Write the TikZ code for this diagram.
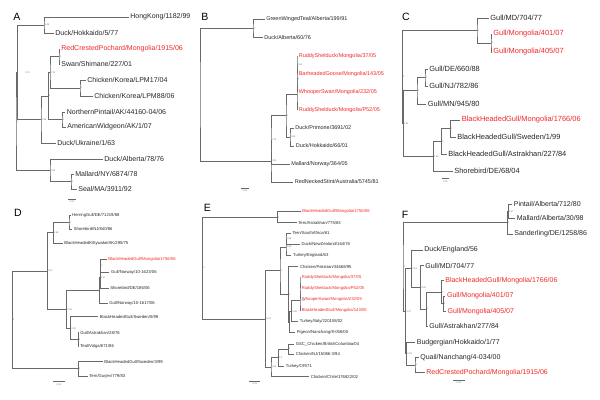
\documentclass[tikz,border=0pt]{standalone}
\usepackage{fontspec}
\setmainfont{Liberation Sans}
\definecolor{mred}{RGB}{240,40,40}
\definecolor{brc}{RGB}{105,105,105}
\newcommand\brk[3]{\draw[br] (#1) -| (#2) |- (#3);}
\begin{document}
\begin{tikzpicture}[x=0.025cm,y=-0.025cm,
 br/.style={draw=brc,line width=0.5pt},
 leaf/.style={anchor=west,inner xsep=1.1pt,inner ysep=0.4pt,text=black!85},
 mg/.style={text=mred},
 sup/.style={anchor=west,inner sep=0.2pt,font=\fontsize{1.7}{2}\selectfont,text=black!55},
 sbt/.style={inner sep=0.2pt,font=\fontsize{1.7}{2}\selectfont,text=black!55},
 fA/.style={font=\fontsize{5}{6}\selectfont},
 fB/.style={font=\fontsize{3.9}{4.5}\selectfont},
 fC/.style={font=\fontsize{5.3}{6}\selectfont},
 fD/.style={font=\fontsize{3}{3.5}\selectfont},
 fE/.style={font=\fontsize{3}{3.5}\selectfont},
 fF/.style={font=\fontsize{5}{6}\selectfont},
 pl/.style={font=\fontsize{7.5}{9}\selectfont,text=black,inner sep=0pt}]
\useasboundingbox (0,0) rectangle (600,400);

% ---------------- Panel A
\node[pl] (LA) at (17,17) {A};
\node[leaf,fA] (a1) at (128.5,17) {HongKong/1182/99};
\node[leaf,fA] (a2) at (53.5,33) {Duck/Hokkaido/5/77};
\node[leaf,fA,mg] (a3) at (59.5,49) {RedCrestedPochard/Mongolia/1915/06};
\node[leaf,fA] (a4) at (59.5,64) {Swan/Shimane/227/01};
\node[leaf,fA] (a5) at (85.5,80) {Chicken/Korea/LPM17/04};
\node[leaf,fA] (a6) at (92.5,96) {Chicken/Korea/LPM88/06};
\node[leaf,fA] (a7) at (65,112) {NorthernPintail/AK/44160-04/06};
\node[leaf,fA] (a8) at (65.5,127) {AmericanWidgeon/AK/1/07};
\node[leaf,fA] (a9) at (55.5,143) {Duck/Ukraine/1/63};
\node[leaf,fA] (a10) at (102.5,159) {Duck/Alberta/78/76};
\node[leaf,fA] (a11) at (73.5,174) {Mallard/NY/6874/78};
\node[leaf,fA] (a12) at (76.5,189) {Seal/MA/3911/92};
\coordinate (pA1) at (44,25);
\coordinate (pA3) at (59,56.5);
\coordinate (pA4) at (80,88);
\coordinate (pA2) at (50,72.25);
\coordinate (pA6) at (62,119.5);
\coordinate (pA5) at (48.5,95.9);
\coordinate (pA7) at (41,119.4);
\coordinate (pA0) at (17.5,72.2);
\coordinate (pA9) at (71,181.5);
\coordinate (pA8) at (50,170.25);
\coordinate (rA) at (16,121.2);
\brk{a1.west}{pA1}{a2.west}
\brk{a3.west}{pA3}{a4.west}
\brk{a5.west}{pA4}{a6.west}
\brk{pA3}{pA2}{pA4}
\brk{a7.west}{pA6}{a8.west}
\brk{pA2}{pA5}{pA6}
\brk{pA5}{pA7}{a9.west}
\brk{pA1}{pA0}{pA7}
\brk{a11.west}{pA9}{a12.west}
\brk{a10.west}{pA8}{pA9}
\brk{pA0}{rA}{pA8}
\node[sup] (sA1) at (pA1) {0.99};
\node[sup] (sA3) at (pA3) {1};
\node[sup] (sA4) at (pA4) {1};
\node[sup] (sA2) at (pA2) {0.79};
\node[sup] (sA6) at (pA6) {1};
\node[sup] (sA5) at (pA5) {1};
\node[sup] (sA7) at (pA7) {0.98};
\node[sup] (sA0) at ([xshift=5]pA0) {0.73};
\node[sup] (sA9) at (pA9) {1};
\node[sup] (sA8) at (pA8) {0.98};
\node[sup] (sAr) at (rA) {1};
\coordinate (sbA1) at (68,199); \coordinate (sbA2) at (76,199);
\draw[br] (sbA1) -- (sbA2);
\node[sbt] (tA) at (72,201.5) {0.01};

% ---------------- Panel B
\node[pl] (LB) at (205,17) {B};
\node[leaf,fB] (b1) at (264.5,19) {GreenWingedTeal/Alberta/199/91};
\node[leaf,fB] (b2) at (262.5,37.5) {Duck/Alberta/60/76};
\node[leaf,fB,mg] (b3) at (297,56) {RuddyShelduck/Mongolia/37/05};
\node[leaf,fB,mg] (b4) at (297,74) {BarheadedGoose/Mongolia/143/05};
\node[leaf,fB,mg] (b5) at (297,92) {WhooperSwan/Mongolia/232/05};
\node[leaf,fB,mg] (b6) at (297,110) {RuddyShelduck/Mongolia/P52/05};
\node[leaf,fB] (b7) at (293.5,128) {Duck/Primorie/3691/02};
\node[leaf,fB] (b8) at (294,146) {Duck/Hokkaido/66/01};
\node[leaf,fB] (b9) at (289.5,164) {Mallard/Norway/364/05};
\node[leaf,fB] (b10) at (293,182) {RedNeckedStint/Australia/5745/81};
\coordinate (pB1) at (253,28.25);
\coordinate (pBr1) at (297,65);
\coordinate (pBr2) at (297,78.5);
\coordinate (pBr3) at (297,94.25);
\coordinate (pB6) at (290,137);
\coordinate (pB5) at (286,115.6);
\coordinate (pB4) at (271,139.8);
\coordinate (pB3) at (271,160.9);
\coordinate (rB) at (200,94.6);
\brk{b1.west}{pB1}{b2.west}
\brk{b3.west}{pBr1}{b4.west}
\brk{pBr1}{pBr2}{b5.west}
\brk{pBr2}{pBr3}{b6.west}
\brk{b7.west}{pB6}{b8.west}
\brk{pBr3}{pB5}{pB6}
\brk{pB5}{pB4}{b9.west}
\brk{pB4}{pB3}{b10.west}
\brk{pB1}{rB}{pB3}
\node[sup] (sB1) at (pB1) {1};
\node[sup] (sBr1) at (pBr1) {0.61};
\node[sup] (sBr2) at (pBr2) {1};
\node[sup] (sB6) at (pB6) {0.98};
\node[sup] (sB5) at (pB5) {1};
\node[sup] (sB4) at (pB4) {0.75};
\node[sup] (sB3) at (pB3) {0.98};
\coordinate (sbB1) at (240.7,188); \coordinate (sbB2) at (249.3,188);
\draw[br] (sbB1) -- (sbB2);
\node[sbt] (tB) at (245,191) {0.01};

% ---------------- Panel C
\node[pl] (LC) at (406,17) {C};
\node[leaf,fC] (c1) at (488.5,18) {Gull/MD/704/77};
\node[leaf,fC,mg] (c2) at (491.5,34) {Gull/Mongolia/401/07};
\node[leaf,fC,mg] (c3) at (491.5,52) {Gull/Mongolia/405/07};
\node[leaf,fC] (c4) at (427.5,69) {Gull/DE/660/88};
\node[leaf,fC] (c5) at (427.5,86) {Gull/NJ/782/86};
\node[leaf,fC] (c6) at (426,104) {Gull/MN/945/80};
\node[leaf,fC,mg] (c7) at (460,120) {BlackHeadedGull/Mongolia/1766/06};
\node[leaf,fC] (c8) at (455.5,137.3) {BlackHeadedGull/Sweden/1/99};
\node[leaf,fC] (c9) at (446.5,154.3) {BlackHeadedGull/Astrakhan/227/84};
\node[leaf,fC] (c10) at (452.5,171) {Shorebird/DE/68/04};
\coordinate (pC2) at (491,43);
\coordinate (pC1) at (477,30.5);
\coordinate (pC4) at (425,77.5);
\coordinate (pC3) at (417,90.75);
\coordinate (pC7) at (450.7,128.65);
\coordinate (pC6) at (441.7,141.5);
\coordinate (pC5) at (433.3,156.25);
\coordinate (pCx) at (403.3,123.5);
\coordinate (rC) at (402.5,77);
\brk{c2.west}{pC2}{c3.west}
\brk{c1.west}{pC1}{pC2}
\brk{c4.west}{pC4}{c5.west}
\brk{pC4}{pC3}{c6.west}
\brk{c7.west}{pC7}{c8.west}
\brk{pC7}{pC6}{c9.west}
\brk{pC6}{pC5}{c10.west}
\brk{pC3}{pCx}{pC5}
\brk{pC1}{rC}{pCx}
\node[sup] (sC2) at (pC2) {1};
\node[sup] (sC1) at (pC1) {1};
\node[sup] (sC4) at (pC4) {1};
\node[sup] (sC3) at (pC3) {1};
\node[sup] (sC7) at (pC7) {1};
\node[sup] (sC6) at (pC6) {1};
\node[sup] (sC5) at (pC5) {0.99};
\node[sup] (sCx) at (pCx) {0.61};
\node[sup] (sCr) at (rC) {1};
\coordinate (sbC1) at (441.7,178.3); \coordinate (sbC2) at (449.3,178.3);
\draw[br] (sbC1) -- (sbC2);
\node[sbt] (tC) at (445.5,181.3) {0.01};

% ---------------- Panel D
\node[pl] (LD) at (18,213) {D};
\node[leaf,fD] (d1) at (70.5,215) {HerringGull/DE/71219/88};
\node[leaf,fD] (d2) at (72,229.3) {Shorebird/NJ/840/86};
\node[leaf,fD] (d3) at (62.5,243.3) {BlackHeadedKittywake/AK/295/75};
\node[leaf,fD,mg] (d4) at (106.5,259.3) {BlackHeadedGull/Mongolia/1756/06};
\node[leaf,fD] (d5) at (109.3,272.7) {Gull/Norway/10-1623/06};
\node[leaf,fD] (d6) at (108.5,288.3) {Shorebird/DE/186/06};
\node[leaf,fD] (d7) at (107.5,303.3) {Gull/Norway/10-1617/06};
\node[leaf,fD] (d8) at (98,316.7) {BlackHeadedGull/Sweden/5/99};
\node[leaf,fD] (d9) at (78.5,332.7) {Gull/Astrakhan/28/76};
\node[leaf,fD] (d10) at (78.5,346.7) {Teal/Volga/671/86};
\node[leaf,fD] (d11) at (102.5,361.7) {BlackHeadedGull/Sweden/3/99};
\node[leaf,fD] (d12) at (87.5,376) {Tern/Gurjev/779/83};
\coordinate (pD3) at (69,222.2);
\coordinate (pD2) at (53.3,232.7);
\coordinate (pD8) at (100.7,266);
\coordinate (pD9) at (100.3,277.2);
\coordinate (pD10) at (99.8,290.2);
\coordinate (pD6) at (78.3,339.7);
\coordinate (pD11) at (70.7,328.2);
\coordinate (pD5) at (66.7,309.2);
\coordinate (pD1) at (47.5,270.95);
\coordinate (pD7) at (78.3,368.85);
\coordinate (rD) at (12.3,319.9);
\brk{d1.west}{pD3}{d2.west}
\brk{pD3}{pD2}{d3.west}
\brk{d4.west}{pD8}{d5.west}
\brk{pD8}{pD9}{d6.west}
\brk{pD9}{pD10}{d7.west}
\brk{d9.west}{pD6}{d10.west}
\brk{d8.west}{pD11}{pD6}
\brk{pD10}{pD5}{pD11}
\brk{pD2}{pD1}{pD5}
\brk{d11.west}{pD7}{d12.west}
\brk{pD1}{rD}{pD7}
\node[sup] (sD3) at (pD3) {1};
\node[sup] (sD2) at (pD2) {0.99};
\node[sup] (sD8) at (pD8) {1};
\node[sup] (sD9) at (pD9) {0.57};
\node[sup] (sD6) at (pD6) {1};
\node[sup] (sD11) at (pD11) {0.99};
\node[sup] (sD5) at (pD5) {0.91};
\node[sup] (sD1) at (pD1) {0.57};
\node[sup] (sD7) at (pD7) {1};
\node[sup] (sDr) at (rD) {1};
\coordinate (sbD1) at (53.3,381.7); \coordinate (sbD2) at (65,381.7);
\draw[br] (sbD1) -- (sbD2);
\node[sbt] (tD) at (59,384.7) {0.01};

% ---------------- Panel E
\node[pl] (LE) at (207.3,207.5) {E};
\node[leaf,fE,mg] (e1) at (300.5,211.7) {BlackHeadedGull/Mongolia/1756/06};
\node[leaf,fE] (e2) at (296.5,222.7) {Tern/Astrakhan/775/83};
\node[leaf,fE] (e3) at (290.7,233.3) {Tern/SouthAfrica/61};
\node[leaf,fE] (e4) at (299.7,244.3) {Duck/NewZealand/164/76};
\node[leaf,fE] (e5) at (291.3,255) {Turkey/England/63};
\node[leaf,fE] (e6) at (298.3,266.7) {Chicken/Pakistan/34668/95};
\node[leaf,fE,mg] (e7) at (300,277.3) {RuddyShelduck/Mongolia/37/05};
\node[leaf,fE,mg] (e8) at (300,288.3) {RuddyShelduck/Mongolia/P52/05};
\node[leaf,fE,mg] (e9) at (300,299.2) {WhooperSwan/Mongolia/232/05};
\node[leaf,fE,mg] (e10) at (300,310.7) {BlackHeadedGull/Mongolia/143/05};
\node[leaf,fE] (e11) at (298,321.7) {Turkey/Italy/220158/02};
\node[leaf,fE] (e12) at (295,332.7) {Pigeon/Nanchang/9-058/00};
\node[leaf,fE] (e13) at (294,344) {GSC\_Chicken/BritishColumbia/04};
\node[leaf,fE] (e14) at (294,354.3) {Chicken/NJ/15086-3/94};
\node[leaf,fE] (e15) at (284,366) {Turkey/OR/71};
\node[leaf,fE] (e16) at (309,376.7) {Chicken/Chile/176822/02};
\coordinate (pE1) at (277.3,217.2);
\coordinate (pEa) at (286,238.8);
\coordinate (pEb) at (286,246.9);
\coordinate (pEe1) at (300,282.8);
\coordinate (pEe2) at (300,291);
\coordinate (pEe) at (300,300.85);
\coordinate (pEf) at (291.7,311.3);
\coordinate (pEg) at (289.3,322);
\coordinate (pEh) at (288.3,294.35);
\coordinate (pEc) at (280,270.6);
\coordinate (pEk) at (288.3,349.15);
\coordinate (pEl) at (278.3,357.6);
\coordinate (pEj) at (271,367.15);
\coordinate (pEi) at (265.7,318.9);
\coordinate (rE) at (202.7,268.05);
\brk{e1.west}{pE1}{e2.west}
\brk{e3.west}{pEa}{e4.west}
\brk{pEa}{pEb}{e5.west}
\brk{e7.west}{pEe1}{e8.west}
\brk{pEe1}{pEe2}{e9.west}
\brk{pEe2}{pEe}{e10.west}
\brk{pEe}{pEf}{e11.west}
\brk{pEf}{pEg}{e12.west}
\brk{e6.west}{pEh}{pEg}
\brk{pEb}{pEc}{pEh}
\brk{e13.west}{pEk}{e14.west}
\brk{pEk}{pEl}{e15.west}
\brk{pEl}{pEj}{e16.west}
\brk{pEc}{pEi}{pEj}
\brk{pE1}{rE}{pEi}
\node[sup] (sE1) at (pE1) {1};
\node[sup] (sEa) at (pEa) {0.84};
\node[sup] (sEb) at (pEb) {0.98};
\node[sup] (sEe) at (pEe) {0.97};
\node[sup] (sEf) at (pEf) {0.89};
\node[sup] (sEh) at (pEh) {1};
\node[sup] (sEc) at (pEc) {1};
\node[sup] (sEk) at (pEk) {1};
\node[sup] (sEl) at (pEl) {0.5};
\node[sup] (sEj) at (pEj) {0.99};
\node[sup] (sEi) at (pEi) {0.97};
\node[sup] (sEr) at (rE) {1};
\coordinate (sbE1) at (249.3,381); \coordinate (sbE2) at (260,381);
\draw[br] (sbE1) -- (sbE2);
\node[sbt] (tE) at (254.6,384) {0.01};

% ---------------- Panel F
\node[pl] (LF) at (405,215) {F};
\node[leaf,fF] (f1) at (512,204.3) {Pintail/Alberta/712/80};
\node[leaf,fF] (f2) at (515,218.3) {Mallard/Alberta/30/98};
\node[leaf,fF] (f3) at (512.5,234) {Sanderling/DE/1258/86};
\node[leaf,fF] (f4) at (422.5,250) {Duck/England/56};
\node[leaf,fF] (f5) at (423.5,265.7) {Gull/MD/704/77};
\node[leaf,fF,mg] (f6) at (443.5,280.7) {BlackHeadedGull/Mongolia/1766/06};
\node[leaf,fF,mg] (f7) at (445.2,296) {Gull/Mongolia/401/07};
\node[leaf,fF,mg] (f8) at (445.8,311.7) {Gull/Mongolia/405/07};
\node[leaf,fF] (f9) at (427.5,326) {Gull/Astrakhan/277/84};
\node[leaf,fF] (f10) at (415,342.7) {Budgergian/Hokkaido/1/77};
\node[leaf,fF] (f11) at (418.5,357.3) {Quail/Nanchang/4-034/00};
\node[leaf,fF,mg] (f12) at (424.5,372.7) {RedCrestedPochard/Mongolia/1915/06};
\coordinate (pFa) at (508.3,211.3);
\coordinate (pFb) at (507.3,222.65);
\coordinate (pFg) at (443.3,303.85);
\coordinate (pFf) at (441.7,292.3);
\coordinate (pFe) at (426.7,309.1);
\coordinate (pFd) at (420.7,287.4);
\coordinate (pFc) at (411.7,268.7);
\coordinate (pFi) at (415,365);
\coordinate (pFh) at (406.7,353.85);
\coordinate (pFj) at (405.7,311.3);
\coordinate (rF) at (403,267);
\brk{f1.west}{pFa}{f2.west}
\brk{pFa}{pFb}{f3.west}
\brk{f7.west}{pFg}{f8.west}
\brk{f6.west}{pFf}{pFg}
\brk{pFf}{pFe}{f9.west}
\brk{f5.west}{pFd}{pFe}
\brk{f4.west}{pFc}{pFd}
\brk{f11.west}{pFi}{f12.west}
\brk{f10.west}{pFh}{pFi}
\brk{pFc}{pFj}{pFh}
\brk{pFb}{rF}{pFj}
\node[sup] (sFa) at (pFa) {0.57};
\node[sup] (sFb) at (pFb) {1};
\node[sup] (sFg) at (pFg) {1};
\node[sup] (sFf) at (pFf) {1};
\node[sup] (sFe) at (pFe) {1};
\node[sup] (sFd) at (pFd) {0.99};
\node[sup] (sFc) at (pFc) {0.53};
\node[sup] (sFi) at (pFi) {1};
\node[sup] (sFh) at (pFh) {0.99};
\node[sup] (sFj) at (pFj) {0.47};
\node[sup] (sFr) at (rF) {1};
\coordinate (sbF1) at (453.3,380); \coordinate (sbF2) at (465,380);
\draw[br] (sbF1) -- (sbF2);
\node[sbt] (tF) at (459,383) {0.01};
\end{tikzpicture}
\end{document}
